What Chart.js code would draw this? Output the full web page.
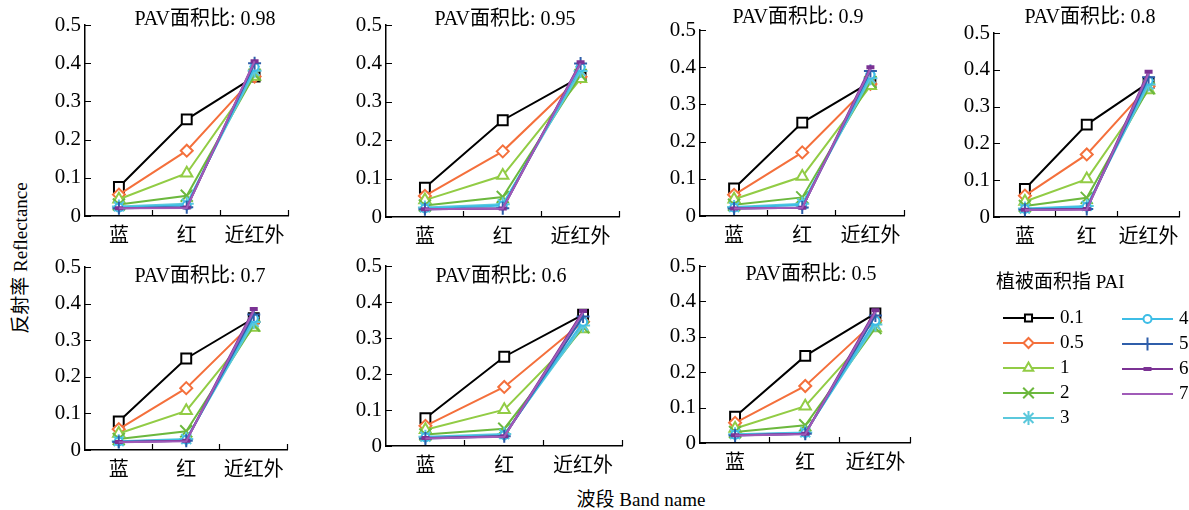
<!DOCTYPE html>
<html>
<head>
<meta charset="utf-8">
<script src="https://cdn.jsdelivr.net/npm/chart.js@4/dist/chart.umd.min.js"></script>
<style>
  body { margin: 0; background: #fff; width: 1189px; height: 510px; position: relative; overflow: hidden;
         font-family: 'Liberation Serif', 'Noto Sans CJK SC', serif; }
  canvas { position: absolute; }
  .axis-title { position: absolute; font-size: 19px; color: #000; white-space: nowrap; transform: translate(-50%, -50%); }
  #y-title { left: 18px; top: 258px; transform: translate(-50%, -50%) rotate(-90deg); }
  #x-title { left: 641px; top: 497px; }
</style>
</head>
<body>
<div class="axis-title" id="y-title">反射率 Reflectance</div>
<div class="axis-title" id="x-title">波段 Band name</div>
<script>
const bands = ['蓝', '红', '近红外']
const pai_labels = ['0.1', '0.5', '1', '2', '3', '4', '5', '6', '7']
const pav_ratios = ['0.98', '0.95', '0.9', '0.8', '0.7', '0.6', '0.5']
const y_ticks = [0, 0.1, 0.2, 0.3, 0.4, 0.5]

// reflectance for each PAI, values for [蓝, 红, 近红外]
const pav_098 = [
  [0.076, 0.253, 0.365], [0.056, 0.171, 0.365], [0.044, 0.112, 0.365],
  [0.030, 0.053, 0.370], [0.025, 0.032, 0.380], [0.022, 0.028, 0.390],
  [0.020, 0.023, 0.400], [0.020, 0.022, 0.405], [0.020, 0.021, 0.405]
]
const pav_095 = [
  [0.076, 0.252, 0.365], [0.055, 0.171, 0.365], [0.044, 0.108, 0.360],
  [0.030, 0.052, 0.370], [0.025, 0.033, 0.380], [0.022, 0.030, 0.390],
  [0.020, 0.023, 0.400], [0.020, 0.022, 0.403], [0.020, 0.022, 0.400]
]
const pav_09 = [
  [0.074, 0.251, 0.360], [0.057, 0.171, 0.355], [0.045, 0.106, 0.350],
  [0.030, 0.050, 0.360], [0.024, 0.033, 0.370], [0.022, 0.030, 0.380],
  [0.020, 0.023, 0.390], [0.020, 0.022, 0.400], [0.020, 0.022, 0.395]
]
const pav_08 = [
  [0.076, 0.251, 0.365], [0.058, 0.170, 0.355], [0.042, 0.103, 0.345],
  [0.030, 0.052, 0.350], [0.023, 0.030, 0.360], [0.022, 0.028, 0.370],
  [0.020, 0.022, 0.380], [0.020, 0.022, 0.395], [0.019, 0.020, 0.390]
]
const pav_07 = [
  [0.078, 0.250, 0.360], [0.057, 0.169, 0.350], [0.045, 0.107, 0.335],
  [0.030, 0.051, 0.340], [0.024, 0.030, 0.350], [0.023, 0.028, 0.360],
  [0.022, 0.025, 0.370], [0.022, 0.025, 0.385], [0.021, 0.024, 0.380]
]
const pav_06 = [
  [0.077, 0.248, 0.365], [0.056, 0.164, 0.345], [0.045, 0.101, 0.325],
  [0.032, 0.048, 0.330], [0.026, 0.033, 0.335], [0.024, 0.030, 0.345],
  [0.021, 0.027, 0.360], [0.022, 0.027, 0.375], [0.021, 0.026, 0.370]
]
const pav_05 = [
  [0.074, 0.246, 0.366], [0.057, 0.161, 0.345], [0.041, 0.104, 0.325],
  [0.031, 0.050, 0.325], [0.025, 0.030, 0.335], [0.023, 0.028, 0.345],
  [0.021, 0.026, 0.360], [0.022, 0.026, 0.375], [0.021, 0.025, 0.370]
]
const panel_data = [pav_098, pav_095, pav_09, pav_08, pav_07, pav_06, pav_05]

// look of each PAI series
const series_style = [
  { color: '#000000', point: 'rect',      r: 7,   lr: 5,   fill: '#fff' },
  { color: '#f4703c', point: 'rectRot',   r: 6,   lr: 5,   fill: '#fff' },
  { color: '#92cc45', point: 'triangle',  r: 6.5, lr: 5.5, fill: '#fff' },
  { color: '#6cb83e', point: 'crossRot',  r: 8.5, lr: 7.5 },
  { color: '#5bc8dc', point: 'star',      r: 7,   lr: 7 },
  { color: '#3dbde6', point: 'circle',    r: 4,   lr: 4,   fill: '#fff' },
  { color: '#2f5eaa', point: 'cross',     r: 6.5, lr: 6.5 },
  { color: '#7b3294', point: 'line',      r: 4,   lr: 4,   bw: 4 },
  { color: '#a05bb8', point: false,       r: 0,   lr: 0 }
]

// where each plot area sits on the page (axis x, top, bottom, right) and its title centre
const panel_box = [
  { x: 85,  top: 25,  bottom: 216, right: 296,  tx: 205,  ty: 20 },
  { x: 386, top: 25,  bottom: 217, right: 627,  tx: 505,  ty: 20 },
  { x: 700, top: 30,  bottom: 216, right: 912,  tx: 798,  ty: 18 },
  { x: 994, top: 33,  bottom: 217, right: 1187, tx: 1090, ty: 18 },
  { x: 85,  top: 267, bottom: 450, right: 295,  tx: 200,  ty: 277 },
  { x: 386, top: 266, bottom: 446, right: 630,  tx: 501,  ty: 277 },
  { x: 700, top: 266, bottom: 443, right: 918,  tx: 811,  ty: 275 }
]

const FONT = "'Liberation Serif', 'Noto Sans CJK SC', serif"
const AXIS_W = 55, PAD_TOP = 30, AXIS_H = 45, PAD_RIGHT = 3

// Excel style tick marks that point into the plot
const innerTicks = {
  id: 'innerTicks',
  afterDraw(chart) {
    const { ctx, chartArea: a, scales: { x, y } } = chart
    ctx.save()
    ctx.strokeStyle = '#000'
    ctx.lineWidth = 1.2
    ctx.beginPath()
    y.ticks.forEach(t => {
      const py = Math.round(y.getPixelForValue(t.value)) + 0.5
      ctx.moveTo(a.left, py)
      ctx.lineTo(a.left + 6, py)
    })
    for (let k = 1; k <= bands.length; k++) {
      const px = Math.round(x.getPixelForValue(k - 0.5)) - 0.5
      ctx.moveTo(px, a.bottom)
      ctx.lineTo(px, a.bottom - 6)
    }
    ctx.stroke()
    ctx.restore()
  }
}

const panelTitle = {
  id: 'panelTitle',
  afterDraw(chart, args, opts) {
    const ctx = chart.ctx
    ctx.save()
    ctx.font = '20px ' + FONT
    ctx.fillStyle = '#000'
    ctx.textAlign = 'center'
    ctx.textBaseline = 'middle'
    ctx.fillText(opts.text, opts.x, opts.y)
    ctx.restore()
  }
}

const makePanel = (i) => {
  const box = panel_box[i]
  const rows = panel_data[i]
  const left = box.x - AXIS_W
  const top = box.top - PAD_TOP
  const canvas = document.createElement('canvas')
  canvas.width = AXIS_W + (box.right - box.x) + PAD_RIGHT
  canvas.height = PAD_TOP + (box.bottom - box.top) + AXIS_H
  canvas.style.left = left + 'px'
  canvas.style.top = top + 'px'
  document.body.appendChild(canvas)

  const datasets = rows.map((vals, s) => {
    const st = series_style[s]
    return {
      label: pai_labels[s],
      data: vals,
      borderColor: st.color,
      borderWidth: 2,
      pointStyle: st.point,
      pointRadius: st.r,
      pointBorderColor: st.color,
      pointBackgroundColor: st.fill || st.color,
      pointBorderWidth: st.bw || 2,
      tension: 0,
      order: rows.length - s
    }
  })

  new Chart(canvas, {
    type: 'line',
    data: { labels: bands, datasets: datasets },
    options: {
      responsive: false,
      animation: false,
      devicePixelRatio: 1,
      layout: { padding: { top: PAD_TOP, right: PAD_RIGHT, left: 0, bottom: 0 } },
      plugins: {
        legend: { display: false },
        tooltip: { enabled: false },
        panelTitle: { text: 'PAV面积比: ' + pav_ratios[i], x: box.tx - left, y: box.ty - top }
      },
      scales: {
        x: {
          offset: true,
          grid: { display: false, drawTicks: false },
          border: { color: '#000', width: 1.5 },
          ticks: { color: '#000', font: { family: FONT, size: 20 }, padding: 9, maxRotation: 0, autoSkip: false },
          afterFit: s => { s.height = AXIS_H }
        },
        y: {
          min: 0,
          max: 0.5,
          grid: { display: false, drawTicks: false },
          border: { color: '#000', width: 1.5 },
          afterBuildTicks: s => { s.ticks = y_ticks.map(v => ({ value: v })) },
          ticks: {
            color: '#000',
            font: { family: FONT, size: 21 },
            padding: 4,
            callback: v => v === 0 ? '0' : v.toFixed(1)
          },
          afterFit: s => { s.width = AXIS_W }
        }
      }
    },
    plugins: [innerTicks, panelTitle]
  })
}

for (let i = 0; i < panel_data.length; i++) {
  makePanel(i)
}

// legend panel, drawn on its own (empty) chart
const legendPlugin = {
  id: 'paiLegend',
  afterDraw(chart) {
    const ctx = chart.ctx
    const ox = 960, oy = 260
    ctx.save()
    ctx.fillStyle = '#000'
    ctx.font = '19px ' + FONT
    ctx.textBaseline = 'middle'
    ctx.fillText('植被面积指 PAI', 996 - ox, 283 - oy)
    pai_labels.forEach((lab, s) => {
      const st = series_style[s]
      const col = s < 5 ? 0 : 1
      const row = s < 5 ? s : s - 5
      const x0 = (col ? 1122 : 1003) - ox
      const x1 = x0 + 51
      const yy = (col ? 319 : 318) + row * 25 - oy
      ctx.strokeStyle = st.color
      ctx.lineWidth = 2
      ctx.beginPath()
      ctx.moveTo(x0, yy)
      ctx.lineTo(x1, yy)
      ctx.stroke()
      if (st.point) {
        ctx.fillStyle = st.fill || st.color
        ctx.lineWidth = st.bw || 2
        Chart.helpers.drawPoint(ctx, { pointStyle: st.point, radius: st.lr, borderWidth: st.bw || 2, rotation: 0 }, (x0 + x1) / 2, yy)
      }
      ctx.fillStyle = '#000'
      ctx.fillText(lab, x1 + 6, yy)
    })
    ctx.restore()
  }
}

const legend_canvas = document.createElement('canvas')
legend_canvas.width = 229
legend_canvas.height = 190
legend_canvas.style.left = '960px'
legend_canvas.style.top = '260px'
document.body.appendChild(legend_canvas)
new Chart(legend_canvas, {
  type: 'line',
  data: { labels: [], datasets: [] },
  options: {
    responsive: false,
    animation: false,
    devicePixelRatio: 1,
    plugins: { legend: { display: false }, tooltip: { enabled: false } },
    scales: { x: { display: false }, y: { display: false } }
  },
  plugins: [legendPlugin]
})
</script>
</body>
</html>
